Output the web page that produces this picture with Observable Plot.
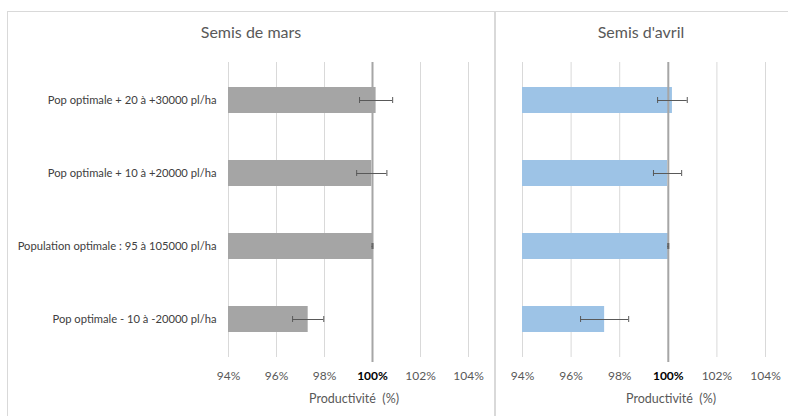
<!DOCTYPE html>
<html>
<head>
<meta charset="utf-8">
<script src="https://cdn.jsdelivr.net/npm/d3@7"></script>
<script src="https://cdn.jsdelivr.net/npm/@observablehq/plot@0.6"></script>
<style>
  html, body { margin: 0; padding: 0; background: #fff; }
  #wrap { position: relative; width: 788px; height: 416px; overflow: hidden; font-family: Lato, "Open Sans", sans-serif; }
  .panel { position: absolute; top: 0; }
  .title { position: absolute; top: 22px; font-size: 16px; color: #595959; transform: translateX(-50%); white-space: nowrap; }
  .xtitle { position: absolute; top: 391px; font-size: 12.5px; color: #595959; transform: translateX(-50%); white-space: nowrap; }
  .line { position: absolute; background: #d9d9d9; }
</style>
</head>
<body>
<div id="wrap">
  <div class="line" style="left:7px;top:11px;width:781px;height:1px"></div>
  <div class="line" style="left:7px;top:11px;width:1px;height:405px"></div>
  <div class="line" style="left:494px;top:11px;width:2px;height:405px"></div>
  <div id="left" class="panel" style="left:0px"></div>
  <div id="right" class="panel" style="left:496px"></div>
  <div class="title" style="left:251px">Semis de mars</div>
  <div class="title" style="left:641px">Semis d'avril</div>
  <div class="xtitle" style="left:354px">Productivité&nbsp;&nbsp;(%)</div>
  <div class="xtitle" style="left:671px">Productivité&nbsp;&nbsp;(%)</div>
</div>
<script>
const categories = [
  "Pop optimale + 20 à +30000 pl/ha",
  "Pop optimale + 10 à +20000 pl/ha",
  "Population optimale : 95 à 105000 pl/ha",
  "Pop optimale - 10 à -20000 pl/ha"
];
const marsValues = [100.15, 99.97, 100.0, 97.32];
const marsErrors = [0.69, 0.63, 0.02, 0.65];
const avrilValues = [100.17, 99.97, 100.0, 97.38];
const avrilErrors = [0.61, 0.58, 0.02, 0.99];
const xTicks = [94, 96, 98, 100, 102, 104];
const axisMin = 94;
const axisMax = 104;
const refValue = 100;

function build(values, errors, color, opts) {
  const data = categories.map((c, i) => ({label: c, value: values[i], err: errors[i]}));
  return Plot.plot({
    width: opts.width,
    height: 416,
    marginLeft: opts.marginLeft,
    marginRight: opts.marginRight,
    marginTop: 62,
    marginBottom: 59,
    style: {fontFamily: "Lato, 'Open Sans', sans-serif", background: "transparent"},
    x: {domain: [axisMin, axisMax], axis: null, label: null},
    y: {domain: categories, paddingInner: 0.65, paddingOuter: 0.325, axis: null, label: null},
    marks: [
      Plot.gridX(xTicks.filter(t => t !== refValue), {stroke: "#d9d9d9", strokeOpacity: 1}),
      Plot.barX(data, {x1: axisMin, x2: "value", y: "label", fill: color}),
      Plot.ruleX([refValue], {stroke: "#a6a6a6", strokeWidth: 2, insetBottom: -5}),
      Plot.ruleY(data, {y: "label", x1: d => d.value - d.err, x2: d => d.value + d.err, stroke: "#595959", strokeWidth: 1}),
      Plot.tickX(data, {y: "label", x: d => d.value - d.err, stroke: "#595959", insetTop: 10, insetBottom: 10}),
      Plot.tickX(data, {y: "label", x: d => d.value + d.err, stroke: "#595959", insetTop: 10, insetBottom: 10}),
      Plot.axisX(xTicks.filter(t => t !== refValue), {tickSize: 0, tickPadding: 14, tickFormat: d => d + "%", fontSize: 12, fill: "#595959", anchor: "bottom", label: null}),
      Plot.axisX([refValue], {tickSize: 0, tickPadding: 14, tickFormat: d => d + "%", fontSize: 12, fill: "#000", fontWeight: "bold", anchor: "bottom", label: null}),
      ...(opts.yAxis ? [Plot.axisY({tickSize: 0, tickPadding: 12, fontSize: 11.2, fill: "#404040", anchor: "left", label: null})] : [])
    ]
  });
}

document.getElementById("left").appendChild(
  build(marsValues, marsErrors, "#a5a5a5", {width: 494, marginLeft: 228, marginRight: 26, yAxis: true})
);
document.getElementById("right").appendChild(
  build(avrilValues, avrilErrors, "#9dc3e6", {width: 292, marginLeft: 26, marginRight: 23, yAxis: false})
);
</script>
</body>
</html>
